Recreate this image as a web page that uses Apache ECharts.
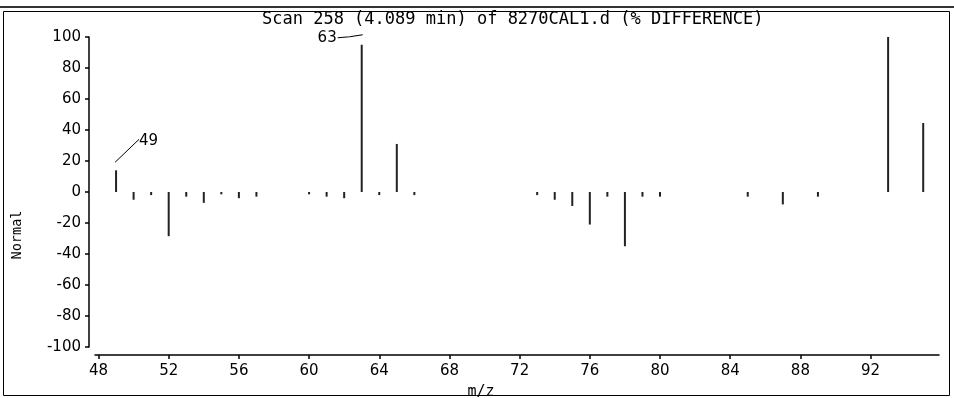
<!DOCTYPE html>
<html><head><meta charset="utf-8">
<script src="https://cdn.jsdelivr.net/npm/echarts@6/dist/echarts.min.js"></script>
<style>html,body{margin:0;padding:0;background:#fff}#c{width:954px;height:398px}</style>
</head><body><div id="c"></div>
<script>
// m/z values and % difference
const mz   = [49, 50, 51, 52, 53, 54, 55, 56, 57, 60, 61, 62, 63, 64, 65, 66, 73, 74, 75, 76, 77, 78, 79, 80, 85, 87, 89, 93, 95];
const diff = [14, -5, -2, -28.5, -3, -7, -1.5, -4, -3, -1.5, -3, -4, 95, -2, 31, -2, -2, -5, -9, -21, -3, -35, -3, -3, -3, -8, -3, 100, 44.5];
const xTicks = [48, 52, 56, 60, 64, 68, 72, 76, 80, 84, 88, 92];
const labeledMz = [49, 63];
const labeledVal = [14, 95];
const titleText = 'Scan 258 (4.089 min) of 8270CAL1.d (% DIFFERENCE)';

const barData = mz.map((m, i) => [m, diff[i]]);
const annData = labeledMz.map((m, i) => [m, labeledVal[i]]);
const mono = 'DejaVu Sans Mono';
const sans = 'DejaVu Sans';
const chart = echarts.init(document.getElementById('c'), null, {renderer: 'canvas'});
chart.setOption({
  animation: false,
  backgroundColor: '#fff',
  title: {text: titleText, left: 257, top: 6,
    textStyle: {fontFamily: mono, fontSize: 17, fontWeight: 'normal', color: '#000'}},
  grid: {left: 95, right: 15, top: 37, bottom: 51},
  xAxis: {type: 'value', min: 47.8, max: 95.9, offset: 8,
    axisLine: {onZero: false, lineStyle: {color: '#000', width: 1.5}},
    axisTick: {customValues: xTicks, length: 4, lineStyle: {color: '#000', width: 1.5}},
    axisLabel: {customValues: xTicks, margin: 9, color: '#000', fontFamily: sans, fontSize: 15},
    splitLine: {show: false}},
  yAxis: {type: 'value', min: -100, max: 100, interval: 20, offset: 6,
    axisLine: {show: true, onZero: false, lineStyle: {color: '#000', width: 1.5}},
    axisTick: {show: true, length: 4, lineStyle: {color: '#000', width: 1.5}},
    axisLabel: {margin: 8, color: '#000', fontFamily: sans, fontSize: 15},
    splitLine: {show: false}},
  graphic: [
    {type: 'line', shape: {x1: 0, y1: 7, x2: 954, y2: 7}, style: {stroke: '#333', lineWidth: 2}},
    {type: 'rect', shape: {x: 3.5, y: 11.5, width: 946, height: 384}, style: {fill: 'none', stroke: '#000', lineWidth: 1}},
    {type: 'text', x: 17, y: 235, rotation: Math.PI / 2, style: {text: 'Normal', fontFamily: mono, fontSize: 13.5, fill: '#000', align: 'center', verticalAlign: 'middle'}},
    {type: 'text', x: 481, y: 392, style: {text: 'm/z', fontFamily: mono, fontSize: 15, fill: '#000', align: 'center', verticalAlign: 'middle'}}
  ],
  series: [
    {type: 'bar', data: barData, barWidth: 2, itemStyle: {color: '#222'}, silent: true},
    {type: 'custom', data: annData, silent: true, z: 5,
      renderItem: function (params, api) {
        const p = api.coord([api.value(0), api.value(1)]);
        const lbl = String(api.value(0));
        if (params.dataIndex === 0) {
          return {type: 'group', children: [
            {type: 'line', shape: {x1: p[0] - 1, y1: p[1] - 8, x2: p[0] + 23, y2: p[1] - 31}, style: {stroke: '#000', lineWidth: 1}},
            {type: 'text', x: p[0] + 23, y: p[1] - 29, style: {text: lbl, fontFamily: sans, fontSize: 15, fill: '#000', align: 'left', verticalAlign: 'middle'}}
          ]};
        }
        return {type: 'group', children: [
          {type: 'polyline', shape: {points: [[p[0] - 24, p[1] - 7], [p[0] - 12, p[1] - 8], [p[0] + 1, p[1] - 10]]}, style: {stroke: '#000', lineWidth: 1.2, fill: 'none'}},
          {type: 'text', x: p[0] - 25, y: p[1] - 7, style: {text: lbl, fontFamily: sans, fontSize: 15, fill: '#000', align: 'right', verticalAlign: 'middle'}}
        ]};
      }}
  ]
});
</script></body></html>
